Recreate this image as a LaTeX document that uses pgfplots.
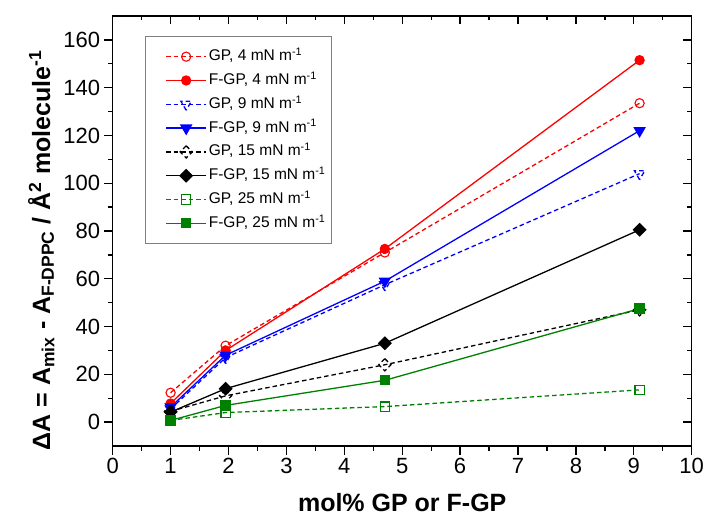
\documentclass[border=0pt]{standalone}
\usepackage{pgfplots}
\pgfplotsset{compat=1.18}
\usepackage{fontspec}
\setmainfont{Liberation Sans}
\definecolor{ogreen}{RGB}{0,128,0}

\begin{document}
\begin{tikzpicture}
\pgfplotsset{
  common/.style={
    scale only axis, width=579bp, height=430bp,
    xmin=0, xmax=10, ymin=-10, ymax=170,
    xtick={0,...,10}, ytick={0,20,...,160},
    minor xtick={0.5,1.5,...,9.5},
    minor ytick={10,30,...,150},
    major tick length=8.5bp, minor tick length=4.5bp,
    every tick/.style={black, line width=1.3bp},
  },
  gp/.style={line width=1.3bp, dash pattern=on 4.5bp off 3bp,
    mark options={solid, fill=white, line width=1.1bp}},
  fgp/.style={line width=1.3bp, mark options={solid, line width=1.1bp}},
}
\begin{axis}[common, name=main,
  axis line style={line width=1.4bp},
  tick align=outside, xtick pos=bottom, ytick pos=left,
  ticklabel style={font=\fontsize{22bp}{22bp}\selectfont},
  yticklabel style={inner xsep=4bp},
  /pgf/number format/assume math mode=true,
  xlabel={mol\% GP or F-GP},
  ylabel={ΔA = A\textsubscript{mix} - A\textsubscript{F-DPPC} / Å\textsuperscript{2} molecule\textsuperscript{-1}},
  label style={font=\bfseries\fontsize{25bp}{25bp}\selectfont},
  xlabel style={at={(axis description cs:0.5,-0.152)}, anchor=base},
  ylabel style={at={(axis description cs:-0.108,0.455)}, anchor=base},
  legend cell align=left,
  legend style={at={(0.056,0.954)}, anchor=north west, draw=gray, line width=0.8bp,
    font=\fontsize{15.5bp}{17bp}\selectfont,
    nodes={inner ysep=0bp, inner xsep=2bp, text height=12.5bp, text depth=4.5bp},
    row sep=6.8bp, inner xsep=4bp, inner ysep=12bp},
  legend image code/.code={\path (0bp,0bp);
    \draw[mark repeat=2,mark phase=2]
    plot coordinates {(16bp,0bp) (36bp,0bp) (56bp,0bp)};},
]
\addplot[gp, red, mark=o, mark size=4.6bp] coordinates {(1,12.3) (1.95,32) (4.7,71) (9.1,133.5)};
\addlegendentry{GP, 4 mN m\textsuperscript{-1}}
\addplot[fgp, red, mark=*, mark size=4.6bp] coordinates {(1,7.8) (1.95,30) (4.7,72.5) (9.1,151.5)};
\addlegendentry{F-GP, 4 mN m\textsuperscript{-1}}
\addplot[gp, blue, mark=triangle, mark size=6bp, mark options={rotate=180}] coordinates {(1,5.5) (1.95,27) (4.7,57.5) (9.1,104)};
\addlegendentry{GP, 9 mN m\textsuperscript{-1}}
\addplot[fgp, blue, mark=triangle*, mark size=6bp, mark options={rotate=180}] coordinates {(1,6.3) (1.95,28) (4.7,59) (9.1,122)};
\addlegendentry{F-GP, 9 mN m\textsuperscript{-1}}
\addplot[gp, black, mark=square, mark size=4.3bp, mark options={rotate=45}] coordinates {(1,4.5) (1.95,11) (4.7,24) (9.1,47)};
\addlegendentry{GP, 15 mN m\textsuperscript{-1}}
\addplot[fgp, black, mark=square*, mark size=4.3bp, mark options={rotate=45}] coordinates {(1,4.2) (1.95,14) (4.7,33) (9.1,80.5)};
\addlegendentry{F-GP, 15 mN m\textsuperscript{-1}}
\addplot[gp, ogreen, mark=square, mark size=4.6bp] coordinates {(1,0.7) (1.95,4) (4.7,6.5) (9.1,13.5)};
\addlegendentry{GP, 25 mN m\textsuperscript{-1}}
\addplot[fgp, ogreen, mark=square*, mark size=4.6bp] coordinates {(1,0.7) (1.95,7) (4.7,17.5) (9.1,47.5)};
\addlegendentry{F-GP, 25 mN m\textsuperscript{-1}}
\end{axis}
\begin{axis}[common,
  axis line style={draw=none},
  tick align=inside, xtick pos=top, ytick pos=right,
  xticklabels={}, yticklabels={},
]
\end{axis}
\pgfresetboundingbox
\useasboundingbox ([xshift=-112.7bp, yshift=16bp]main.north west)
  rectangle ([xshift=13.3bp, yshift=-75bp]main.south east);
\end{tikzpicture}
\end{document}
